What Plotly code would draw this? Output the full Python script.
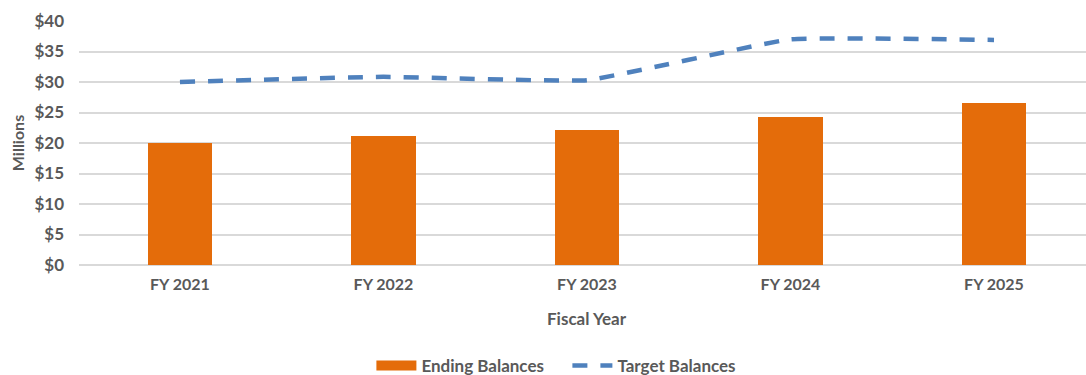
import plotly.graph_objects as go

# Fiscal year balances, in millions of dollars
years = ["FY 2021", "FY 2022", "FY 2023", "FY 2024", "FY 2025"]
ending_balances = [20.0, 21.15, 22.2, 24.2, 26.6]
target_balances = [30.0, 30.85, 30.3, 37.0, 36.9]
y_tick_values = [0, 5, 10, 15, 20, 25, 30, 35, 40]
y_tick_labels = ["$0", "$5", "$10", "$15", "$20", "$25", "$30", "$35", "$40"]

FONT = "Lato"
TEXT_GRAY = "#595959"
GRID = "#d9d9d9"
BAR_COLOR = "#E46C0A"
LINE_COLOR = "#4F81BD"

fig = go.Figure()

fig.add_trace(go.Bar(
    x=years,
    y=ending_balances,
    name="Ending Balances",
    marker=dict(color=BAR_COLOR, line=dict(width=0)),
    width=0.315,
    showlegend=False,
))

# wide swatch for the bar series in the legend
fig.add_trace(go.Scatter(
    x=[None],
    y=[None],
    name="Ending Balances",
    mode="lines",
    line=dict(color=BAR_COLOR, width=12),
))

fig.add_trace(go.Scatter(
    x=years,
    y=target_balances,
    name="Target Balances",
    mode="lines",
    line=dict(color=LINE_COLOR, width=4.5, dash="15px,13px", shape="spline", smoothing=0.3),
))

fig.update_layout(
    width=1086,
    height=375,
    margin=dict(l=79, r=0, t=21, b=110, autoexpand=False),
    paper_bgcolor="white",
    plot_bgcolor="white",
    font=dict(family=FONT, color=TEXT_GRAY, size=17),
    showlegend=True,
    legend=dict(
        orientation="h",
        x=0.485,
        xanchor="center",
        y=-0.414,
        yanchor="middle",
        font=dict(family=FONT, size=17, color=TEXT_GRAY, weight="bold"),
        itemwidth=40,
        entrywidth=141,
        entrywidthmode="pixels",
        tracegroupgap=0,
    ),
    bargap=0,
)

fig.update_xaxes(
    type="category",
    range=[-0.496, 4.452],
    showgrid=False,
    showline=False,
    zeroline=False,
    ticks="",
    tickfont=dict(family=FONT, size=16, color=TEXT_GRAY, weight="bold"),
    ticklabelstandoff=8,
)

fig.update_yaxes(
    range=[0, 40],
    tickvals=y_tick_values,
    ticktext=y_tick_labels,
    showgrid=True,
    gridcolor=GRID,
    gridwidth=1.5,
    zeroline=True,
    zerolinecolor=GRID,
    zerolinewidth=1.5,
    showline=False,
    ticks="",
    tickfont=dict(family=FONT, size=17, color=TEXT_GRAY, weight="bold"),
    ticklabelstandoff=14,
    title=dict(text="Millions", font=dict(family=FONT, size=16, color=TEXT_GRAY, weight="bold"), standoff=5),
)

fig.add_annotation(
    text="Fiscal Year",
    xref="x",
    yref="paper",
    x=2,
    y=-0.218,
    yanchor="middle",
    showarrow=False,
    font=dict(family=FONT, size=17, color=TEXT_GRAY, weight="bold"),
)

fig.write_html("out.html")
